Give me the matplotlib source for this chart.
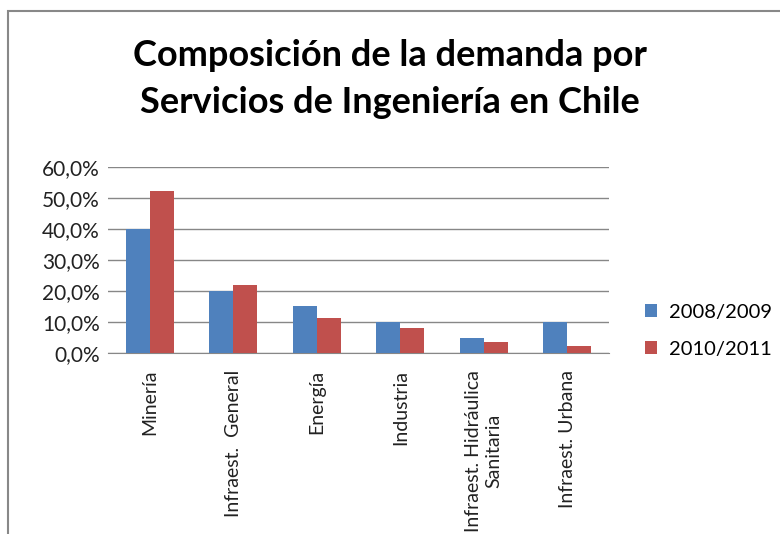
import matplotlib.pyplot as plt
import numpy as np
from matplotlib.ticker import FuncFormatter
from matplotlib.patches import Rectangle

# Datos
categorias = ["Minería", "Infraest.  General", "Energía", "Industria",
              "Infraest. Hidráulica\nSanitaria", "Infraest. Urbana"]
serie_2008 = [0.40, 0.20, 0.151, 0.10, 0.047, 0.10]
serie_2010 = [0.524, 0.22, 0.114, 0.08, 0.037, 0.021]
nombres = ["2008/2009", "2010/2011"]
ticks_y = [0.0, 0.1, 0.2, 0.3, 0.4, 0.5, 0.6]

plt.rcParams['font.family'] = ['Lato', 'DejaVu Sans']

fig = plt.figure(figsize=(7.8, 5.34), dpi=100)

# marco del grafico (recortado a la derecha y abajo)
fig.patches.append(Rectangle((8 / 780, -0.1), 1.2, 1 - 11 / 534 + 0.1,
                             transform=fig.transFigure, fill=False,
                             edgecolor='#888888', linewidth=1.5))

fig.text(0.5, 0.897, "Composición de la demanda por", ha='center', va='center',
         fontsize=26, fontweight='bold', color='black')
fig.text(0.5, 0.808, "Servicios de Ingeniería en Chile", ha='center', va='center',
         fontsize=26, fontweight='bold', color='black')

ax = fig.add_axes([108 / 780, 1 - 353 / 534, (609 - 108) / 780, (353 - 167) / 534])

x = np.arange(len(categorias))
ancho = 0.2857
ax.bar(x - ancho / 2, serie_2008, ancho, color='#4F81BD', label=nombres[0], zorder=3)
ax.bar(x + ancho / 2, serie_2010, ancho, color='#C0504D', label=nombres[1], zorder=3)

ax.set_xlim(-0.5, len(categorias) - 0.5)
ax.set_ylim(0, 0.6)
ax.set_yticks(ticks_y)
ax.yaxis.set_major_formatter(FuncFormatter(lambda v, p: f"{v * 100:.1f}%".replace('.', ',')))
ax.grid(axis='y', color='#878787', linewidth=1, zorder=0)
for lado in ['top', 'right', 'left']:
    ax.spines[lado].set_visible(False)
ax.spines['bottom'].set_color('#878787')
ax.tick_params(axis='y', length=0, labelsize=15, pad=6, colors='#222222')
ax.set_xticks(x)
ax.set_xticklabels(categorias, rotation=90, fontsize=14, color='#222222',
                   va='top', ha='center', multialignment='center')
ax.tick_params(axis='x', length=0, pad=12)

ax.legend(loc='center left', bbox_to_anchor=(1.035, 0.12), frameon=False,
          fontsize=14.5, handlelength=0.6, handleheight=0.6, labelspacing=1.0,
          handletextpad=0.6)

plt.savefig("out.png", dpi=100)
